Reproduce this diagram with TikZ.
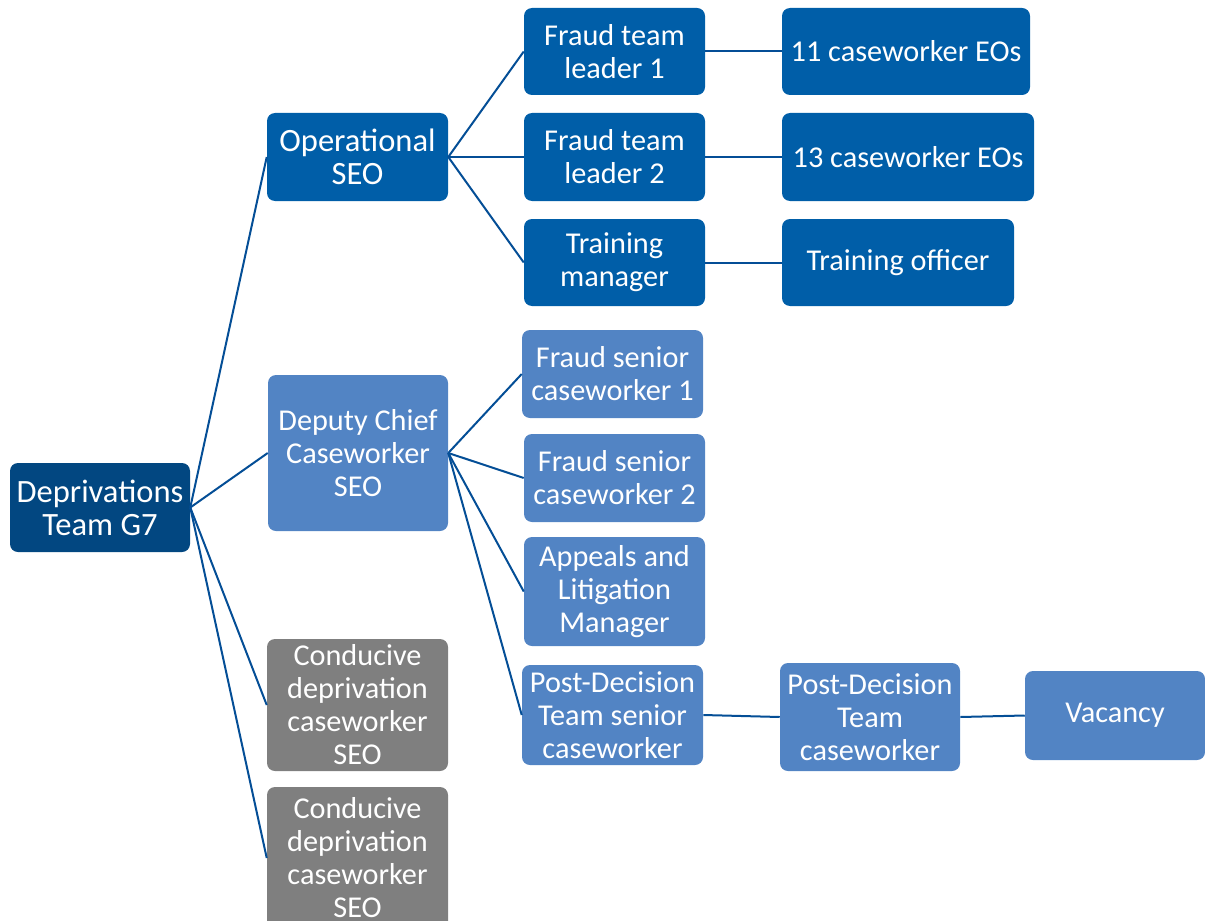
\documentclass[tikz,border=0pt]{standalone}
\usepackage{fontspec}
\setmainfont{Carlito}
\definecolor{rootc}{RGB}{2,71,129}
\definecolor{darkc}{RGB}{0,94,168}
\definecolor{lightc}{RGB}{82,132,196}
\definecolor{grayc}{RGB}{127,127,127}
\definecolor{linec}{RGB}{4,78,150}
\tikzset{
  box/.style 2 args={rounded corners=6pt, minimum width=#1*0.75pt, minimum height=#2*0.75pt,
    text width=#1*0.75pt-3pt, align=flush center, inner sep=0pt, text=white,
    font=\fontsize{22.7}{24.75}\selectfont},
  bigtext/.style={font=\fontsize{24.4}{24.75}\selectfont},
  rootbox/.style={fill=rootc},
  darkbox/.style={fill=darkc},
  lightbox/.style={fill=lightc},
  graybox/.style={fill=grayc},
  conn/.style={draw=linec, line width=1.5pt}
}
\begin{document}
\begin{tikzpicture}[x=0.75pt,y=-0.75pt]
\useasboundingbox (0,0) rectangle (1205,920);
\clip (0,0) rectangle (1205,920);
% root
\node[box={180}{89}, rootbox, bigtext] (root) at (100,507.5) {Deprivations\\Team G7};
% level 1
\node[box={181}{88}, darkbox, bigtext] (ops) at (357.5,157) {Operational\\SEO};
\node[box={180}{156}, lightbox] (dep) at (358,453) {Deputy Chief\\Caseworker\\SEO};
\node[box={181}{132}, graybox] (con1) at (357.5,705) {Conducive\\deprivation\\caseworker\\SEO};
\node[box={181}{142}, graybox] (con2) at (357.5,858) {Conducive\\deprivation\\caseworker\\SEO};
% level 2 under ops
\node[box={181}{87}, darkbox] (ftl1) at (614.5,51.5) {Fraud team\\leader 1};
\node[box={181}{88}, darkbox] (ftl2) at (614.5,157) {Fraud team\\leader 2};
\node[box={181}{87}, darkbox] (tm) at (614.5,262.5) {Training\\manager};
% level 3 under ops
\node[box={248}{87}, darkbox] (eo11) at (906,51.5) {11 caseworker EOs};
\node[box={252}{88}, darkbox] (eo13) at (908,157) {13 caseworker EOs};
\node[box={232}{87}, darkbox] (to) at (898,262.5) {Training officer};
% level 2 under deputy
\node[box={181}{88}, lightbox] (fsc1) at (612.5,374) {Fraud senior\\caseworker 1};
\node[box={181}{88}, lightbox] (fsc2) at (614.5,478) {Fraud senior\\caseworker 2};
\node[box={181}{109}, lightbox] (alm) at (614.5,591.5) {Appeals and\\Litigation\\Manager};
\node[box={181}{100}, lightbox] (pds) at (612.5,715) {Post-Decision\\Team senior\\caseworker};
\node[box={180}{108}, lightbox] (pdc) at (870,717) {Post-Decision\\Team\\caseworker};
\node[box={180}{89}, lightbox] (vac) at (1115,715.5) {Vacancy};
% connectors
\foreach \c in {ops,dep,con1,con2} \draw[conn] (root.east) -- (\c.west);
\foreach \c in {ftl1,ftl2,tm} \draw[conn] (ops.east) -- (\c.west);
\draw[conn] (ftl1.east) -- (eo11.west);
\draw[conn] (ftl2.east) -- (eo13.west);
\draw[conn] (tm.east) -- (to.west);
\foreach \c in {fsc1,fsc2,alm,pds} \draw[conn] (dep.east) -- (\c.west);
\draw[conn] (pds.east) -- (pdc.west);
\draw[conn] (pdc.east) -- (vac.west);
\end{tikzpicture}
\end{document}
